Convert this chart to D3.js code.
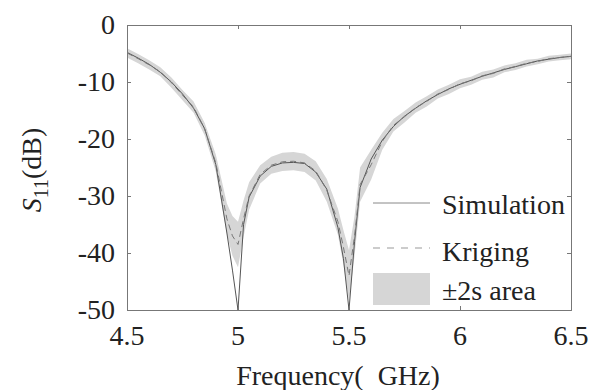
<!DOCTYPE html>
<html><head><meta charset="utf-8">
<script src="https://cdn.jsdelivr.net/npm/d3@7/dist/d3.min.js"></script>
<style>
body{margin:0;background:#fff}
#wrap{position:relative;width:591px;height:390px;overflow:hidden}
svg{display:block;position:absolute;left:0;top:0}
</style>
</head><body>
<div id="wrap"><svg id="c" width="591" height="390"></svg><div id="xtitle" style="position:absolute;left:138px;top:362px;width:400px;text-align:center;white-space:pre;color:#222;font:28px/28px 'Liberation Serif' !important">Frequency(  GHz)</div></div>
<script>
const freq = [4.50,4.55,4.60,4.65,4.70,4.75,4.80,4.85,4.90,4.95,4.975,5.00,5.025,5.05,5.10,5.15,5.20,5.25,5.30,5.35,5.40,5.45,5.475,5.50,5.525,5.55,5.60,5.65,5.70,5.75,5.80,5.85,5.90,5.95,6.00,6.05,6.10,6.15,6.20,6.25,6.30,6.35,6.40,6.45,6.50];
const simulation = [-4.8,-5.8,-6.9,-8.3,-10.0,-12.1,-14.6,-18.2,-24.5,-36.5,-43,-50,-35,-30.2,-26.5,-24.8,-24.2,-24.1,-24.3,-25.8,-28.8,-35.5,-41,-50,-38,-28.5,-23.5,-20.2,-17.8,-16.0,-14.6,-13.3,-12.2,-11.2,-10.4,-9.7,-9.0,-8.4,-7.8,-7.3,-6.8,-6.3,-6.0,-5.7,-5.5];
const kriging = [-4.9,-5.9,-7.0,-8.2,-10.1,-12.3,-14.4,-18.3,-24.2,-34,-37,-38.5,-34,-30,-26.2,-24.6,-24.0,-23.9,-24.2,-25.6,-29.0,-34.5,-39,-44,-37,-28,-24.5,-20.4,-17.6,-16.1,-14.5,-13.4,-12.1,-11.3,-10.3,-9.8,-8.9,-8.5,-7.7,-7.3,-6.7,-6.4,-5.9,-5.7,-5.5];
const band2s = [0.8,0.8,0.8,0.8,0.9,0.9,1.0,1.1,1.5,2.7,3.5,4.0,3.2,2.4,1.6,1.5,1.6,1.6,1.6,1.7,2.0,2.3,3.0,4.5,3.5,3.0,2.6,1.5,1.1,1.0,0.9,0.9,0.8,0.8,0.8,0.7,0.7,0.7,0.6,0.6,0.6,0.5,0.5,0.5,0.5];
const xTicks = [4.5,5,5.5,6,6.5];
const yTicks = [0,-10,-20,-30,-40,-50];
const legendLabels = ["Simulation","Kriging","±2s area"];

const svg = d3.select("#c");
const wrap = d3.select("#wrap");
const L=127,R=571,T=25,B=310;
const x = d3.scaleLinear().domain([4.5,6.5]).range([L,R]);
const y = d3.scaleLinear().domain([-50,0]).range([B,T]);
const ASC = 23.4; // baseline offset inside a 28px line box
const FONT = "font:28px/28px 'Liberation Serif' !important;color:#222;position:absolute;white-space:pre;";

svg.append("defs").append("clipPath").attr("id","clip")
  .append("rect").attr("x",L).attr("y",T).attr("width",R-L).attr("height",B-T);

const data = freq.map((f,i)=>({f,s:simulation[i],k:kriging[i],w:band2s[i]}));
const g = svg.append("g").attr("clip-path","url(#clip)");
g.append("path").datum(data)
  .attr("d", d3.area().x(d=>x(d.f)).y0(d=>y(Math.max(-50,d.k-d.w))).y1(d=>y(d.k+d.w)))
  .attr("fill","#d6d6d6");
g.append("path").datum(data)
  .attr("d", d3.line().x(d=>x(d.f)).y(d=>y(d.s)))
  .attr("fill","none").attr("stroke","#555").attr("stroke-width",1);
g.append("path").datum(data)
  .attr("d", d3.line().x(d=>x(d.f)).y(d=>y(d.k)))
  .attr("fill","none").attr("stroke","#777").attr("stroke-width",1).attr("stroke-dasharray","6,4");

// axes (inward ticks, mirrored); labels drawn as HTML text below
const axCol = "#777";
const axB = svg.append("g").attr("transform",`translate(0,${B})`)
  .call(d3.axisBottom(x).tickValues(xTicks).tickSize(-4).tickFormat(""));
const axT = svg.append("g").attr("transform",`translate(0,${T})`)
  .call(d3.axisTop(x).tickValues(xTicks).tickSize(-4).tickFormat(""));
const axL = svg.append("g").attr("transform",`translate(${L},0)`)
  .call(d3.axisLeft(y).tickValues(yTicks).tickSize(-4).tickFormat(""));
const axR = svg.append("g").attr("transform",`translate(${R},0)`)
  .call(d3.axisRight(y).tickValues(yTicks).tickSize(-4).tickFormat(""));
[axB,axT,axL,axR].forEach(a=>{
  a.selectAll("path").attr("stroke",axCol).attr("stroke-width",1);
  a.selectAll("line").attr("stroke",axCol);
  a.selectAll("text").remove();
});

// tick labels
wrap.selectAll("div.xt").data(xTicks).join("div").attr("class","xt")
  .attr("style",d=>FONT+`left:${x(d)-50}px;top:${345-ASC}px;width:100px;text-align:center;`)
  .text(d=>String(d));
wrap.selectAll("div.yt").data(yTicks).join("div").attr("class","yt")
  .attr("style",d=>FONT+`left:0px;top:${y(d)+9.5-ASC}px;width:115px;text-align:right;`)
  .text(d=>String(d));

// legend
const lx0=373,lx1=430,tx=442;
svg.append("line").attr("x1",lx0).attr("x2",lx1).attr("y1",203).attr("y2",203).attr("stroke","#888").attr("stroke-width",1);
svg.append("line").attr("x1",lx0).attr("x2",lx1).attr("y1",248).attr("y2",248).attr("stroke","#999").attr("stroke-width",1).attr("stroke-dasharray","7,7");
svg.append("rect").attr("x",lx0).attr("y",273).attr("width",lx1-lx0).attr("height",32).attr("fill","#d6d6d6");
[214,261,300].forEach((yy,i)=>{
  wrap.append("div").attr("style",FONT+`left:${tx}px;top:${yy-ASC}px;`).text(legendLabels[i]);
});

// y axis title
const yo = wrap.append("div")
  .attr("style","position:absolute;left:39px;top:170px;width:0;height:0;transform:rotate(-90deg);transform-origin:0 0;");
const yi = yo.append("div").attr("style",FONT+`left:0;top:0;transform:translate(-50%,${-ASC}px);`);
yi.append("i").attr("style","font:italic 28px 'Liberation Serif' !important").text("S");
yi.append("span").attr("style","font:20px/0 'Liberation Serif' !important;vertical-align:-7px").text("11");
yi.append("span").attr("style","font:28px 'Liberation Serif' !important").text("(dB)");
</script>
</body></html>
